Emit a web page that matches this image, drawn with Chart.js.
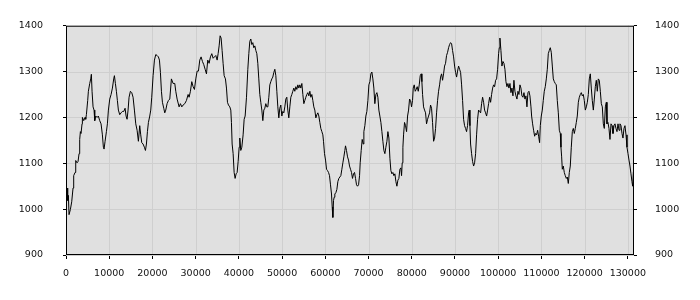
<!DOCTYPE html>
<html>
<head>
<meta charset="utf-8">
<script src="https://cdn.jsdelivr.net/npm/chart.js@4/dist/chart.umd.min.js"></script>
<style>
  html, body { margin: 0; padding: 0; background: #fff; }
  #wrap { width: 700px; height: 300px; }
</style>
</head>
<body>
<div id="wrap"><canvas id="myChart"></canvas></div>
<script>
// values, x = sample index, y = level
const xValues = [
  0, 240, 390, 550, 700, 1010, 1320, 1630, 1780, 2090, 2250, 2560, 2790, 3020, 3170, 3330, 3480, 3710, 3790, 4100,
  4410, 4560, 4720, 5020, 5180, 5490, 5720, 5870, 6030, 6260, 6490, 6650, 6880, 7190, 7490, 7800, 8110, 8420, 8650, 8810,
  9040, 9350, 9580, 9810, 10120, 10430, 10740, 11040, 11200, 11430, 11660, 11890, 12120, 12430, 12740, 13050, 13360, 13670, 13900, 14130,
  14360, 14590, 14900, 15210, 15520, 15830, 16140, 16450, 16750, 17060, 17290, 17530, 17830, 18140, 18380, 18610, 18840, 19070, 19380, 19610,
  19840, 20150, 20460, 20770, 21080, 21380, 21620, 21850, 22080, 22310, 22620, 22850, 23080, 23390, 23700,
  24010, 24390, 24780, 25170, 25400, 25710, 26170, 26480, 26790, 27090, 27480, 27870, 28250, 28480, 28790, 29100, 29410, 29720, 30030, 30340,
  30640, 30950, 31260, 31570, 31880, 32190, 32500, 32800, 33110, 33420, 33730, 34040, 34350, 34660, 34970, 35200, 35430, 35660, 35890, 36120,
  36350, 36590, 36890, 37130, 37360, 37590, 37900, 38130, 38280, 38440, 38670, 38900, 39130, 39360, 39600, 39830, 40060, 40210, 40440, 40680,
  40980, 41220, 41450, 41760, 42070, 42300, 42530, 42760, 42990, 43220, 43450, 43690, 43920, 44150, 44380, 44610, 44840, 45070, 45310, 45540,
  45770, 46000, 46230, 46460, 46700, 46930, 47160, 47390, 47620, 47850, 48080, 48320, 48550, 48780, 49010, 49240,
  49470, 49700, 49940, 50170, 50400, 50630, 50860, 51090, 51320, 51550, 51790, 52020, 52250, 52480, 52710, 52940, 53180, 53410, 53640, 53870,
  54100, 54330, 54570, 54800, 55030, 55260, 55490, 55720, 55950, 56190, 56420, 56650, 56880, 57110, 57340, 57570, 57810, 58040, 58270, 58500,
  58730, 58960, 59200, 59430, 59580, 59810, 60050, 60280, 60510, 60740, 60970, 61200, 61430, 61590, 61740, 61900, 62050, 62200, 62440, 62670,
  62900, 63130, 63360, 63590, 63830, 64060, 64290, 64520, 64670, 64900, 65140, 65370, 65600, 65830, 66060, 66290, 66530, 66760, 66990, 67220,
  67450, 67690, 67920, 68070, 68300, 68530, 68770, 68920, 69150, 69380, 69610, 69850, 70080, 70310, 70540, 70770, 71000, 71230, 71460, 71700,
  71930, 72160, 72390, 72620, 72860, 73090, 73320, 73550, 73780, 74010, 74250, 74480, 74710,
  74940, 75170, 75400, 75630, 75860, 76100, 76330, 76560, 76790, 77020, 77250, 77480, 77640, 77790, 77950, 78100, 78330, 78560, 78800, 79030,
  79260, 79490, 79720, 79950, 80180, 80340, 80570, 80800, 81030, 81260, 81500, 81730, 81960, 82190, 82340, 82500, 82730, 82960, 83190, 83420,
  83660, 83890, 84120, 84350, 84580, 84810, 85050, 85280, 85510, 85740, 85970, 86200, 86440, 86670, 86900, 87130, 87360, 87590, 87820, 88050,
  88290, 88520, 88750, 88980, 89210, 89440, 89680, 89910, 90140, 90370, 90600, 90830, 91070, 91300, 91530, 91760, 91990, 92220, 92450, 92680,
  92910, 93150, 93300, 93460, 93610, 93840, 94070, 94310, 94540, 94770, 95000, 95230, 95460, 95700, 95930, 96160, 96390, 96620, 96850, 97080,
  97320, 97550, 97780, 98010, 98240, 98470, 98710, 98940, 99170, 99400, 99630, 99860, 100090, 100250,
  100400, 100630, 100860, 101100, 101330, 101560, 101790, 102020, 102250, 102480, 102720, 102950, 103180, 103410, 103640, 103870, 104110, 104340, 104570, 104800,
  105030, 105260, 105490, 105730, 105960, 106190, 106420, 106650, 106880, 107110, 107340, 107580, 107730, 107960, 108190, 108430, 108660, 108890, 109120, 109350,
  109580, 109740, 109970, 110200, 110430, 110660, 110890, 111130, 111360, 111590, 111820, 112050, 112280, 112520, 112750, 112980, 113210, 113440, 113670, 113910,
  114140, 114370, 114520, 114680, 114830, 115060, 115290, 115520, 115760, 115990, 116220, 116450, 116680, 116910, 117150, 117380, 117610, 117840, 118070, 118300,
  118540, 118770, 119000, 119230, 119460, 119690, 119920, 120160, 120390, 120620, 120850, 121080, 121310, 121540, 121770, 122010, 122240, 122470, 122700, 122930,
  123160, 123390, 123630, 123860, 124090, 124320, 124550, 124790, 125020, 125170, 125400, 125630, 125860, 126100, 126330, 126560, 126790, 127020, 127250, 127480,
  127720, 127950, 128180, 128410, 128640, 128870, 129100, 129330, 129570, 129800, 130030, 130260, 130490, 130720, 130950, 131110, 131270, 131420
];
const yValues = [
  1040, 1046, 1019, 1030, 988, 999, 1016, 1046, 1073, 1080, 1106, 1101, 1104, 1121, 1152, 1169, 1165, 1186, 1200, 1193,
  1200, 1196, 1206, 1237, 1257, 1274, 1284, 1294, 1257, 1223, 1216, 1193, 1203, 1200, 1203, 1193, 1186, 1162, 1135, 1131,
  1148, 1169, 1186, 1216, 1240, 1250, 1264, 1284, 1291, 1274, 1257, 1237, 1216, 1206, 1210, 1213, 1213, 1220, 1203, 1196,
  1216, 1244, 1257, 1254, 1244, 1216, 1186, 1172, 1148, 1182, 1162, 1145, 1142, 1135, 1128, 1142, 1169, 1189, 1203, 1216,
  1244, 1291, 1325, 1337, 1335, 1332, 1325, 1298, 1257, 1233, 1220, 1210, 1216, 1230, 1237,
  1240, 1284, 1274, 1274, 1257, 1240, 1223, 1230, 1223, 1227, 1230, 1237, 1250, 1244, 1257, 1278, 1267, 1261, 1284, 1301,
  1301, 1325, 1332, 1322, 1315, 1305, 1295, 1325, 1318, 1332, 1339, 1329, 1332, 1335, 1325, 1339, 1356, 1378, 1373, 1346,
  1318, 1291, 1284, 1264, 1233, 1227, 1223, 1216, 1189, 1142, 1121, 1080, 1067, 1077, 1080, 1104, 1135, 1155, 1128, 1135,
  1162, 1196, 1203, 1244, 1305, 1339, 1366, 1371, 1359, 1363, 1352, 1356, 1346, 1339, 1318, 1284, 1250, 1233, 1216, 1193,
  1216, 1220, 1230, 1223, 1223, 1244, 1271, 1278, 1284, 1288, 1298, 1305, 1291, 1257, 1223, 1199,
  1220, 1227, 1203, 1213, 1210, 1223, 1240, 1244, 1216, 1199, 1223, 1244, 1250, 1257, 1264, 1257, 1267, 1261, 1271, 1264,
  1271, 1264, 1274, 1250, 1230, 1237, 1244, 1250, 1254, 1247, 1257, 1244, 1250, 1237, 1223, 1216, 1199, 1206, 1210, 1203,
  1189, 1176, 1169, 1162, 1148, 1121, 1107, 1087, 1084, 1080, 1073, 1053, 1033, 1005, 982, 1019, 1026, 1033, 1036, 1043,
  1060, 1067, 1070, 1073, 1087, 1101, 1114, 1128, 1138, 1128, 1114, 1107, 1094, 1087, 1080, 1067, 1077, 1080, 1067, 1053,
  1050, 1053, 1073, 1101, 1128, 1152, 1142, 1169, 1182, 1203, 1213, 1237, 1271, 1278, 1295, 1299, 1284, 1264, 1230, 1250,
  1254, 1244, 1216, 1203, 1189, 1169, 1148, 1128, 1121, 1135, 1148, 1169, 1155,
  1111, 1084, 1077, 1080, 1073, 1077, 1060, 1050, 1063, 1067, 1087, 1090, 1073, 1101, 1135, 1162, 1189, 1182, 1169, 1203,
  1216, 1240, 1237, 1223, 1237, 1264, 1271, 1257, 1261, 1267, 1257, 1271, 1291, 1295, 1278, 1250, 1223, 1216, 1210, 1186,
  1196, 1203, 1210, 1227, 1220, 1189, 1148, 1155, 1176, 1210, 1237, 1257, 1271, 1288, 1295, 1281, 1295, 1312, 1318, 1335,
  1342, 1352, 1359, 1363, 1361, 1346, 1332, 1312, 1298, 1288, 1301, 1312, 1305, 1298, 1271, 1237, 1196, 1182, 1176, 1169,
  1182, 1210, 1216, 1182, 1142, 1121, 1104, 1094, 1101, 1121, 1162, 1196, 1216, 1213, 1210, 1230, 1244, 1233, 1216, 1210,
  1203, 1216, 1230, 1244, 1233, 1250, 1264, 1271, 1267, 1281, 1284, 1305, 1339, 1352,
  1373, 1346, 1312, 1322, 1318, 1305, 1278, 1267, 1274, 1264, 1274, 1254, 1264, 1247, 1281, 1257, 1247, 1240, 1257, 1250,
  1271, 1264, 1247, 1244, 1254, 1240, 1247, 1223, 1254, 1257, 1247, 1223, 1203, 1186, 1172, 1159, 1165, 1162, 1172, 1159,
  1145, 1182, 1203, 1216, 1237, 1257, 1267, 1284, 1305, 1339, 1346, 1352, 1342, 1312, 1284, 1278, 1274, 1271, 1237, 1210,
  1172, 1165, 1135, 1114, 1087, 1094, 1080, 1073, 1067, 1070, 1056, 1080, 1094, 1135, 1169, 1176, 1165, 1176, 1189, 1203,
  1233, 1244, 1250, 1254, 1247, 1250, 1237, 1216, 1223, 1233, 1250, 1284, 1295, 1264, 1237, 1216, 1240, 1267, 1281, 1257,
  1284, 1281, 1257, 1230, 1223, 1186, 1176, 1223, 1233, 1186, 1189, 1176, 1152, 1186, 1182, 1165, 1182, 1186, 1176, 1169,
  1186, 1172, 1186, 1182, 1165, 1155, 1176, 1182, 1162, 1135, 1121, 1107, 1094, 1077, 1060, 1050, 1080, 1090
];

// axis ticks as shown in the reference
const xTicks = [0, 10000, 20000, 30000, 40000, 50000, 60000, 70000, 80000, 90000, 100000, 110000, 120000, 130000];
const yTicks = [900, 1000, 1100, 1200, 1300, 1400];

const X_MAX = 131420;
const Y_MIN = 900;
const Y_MAX = 1400;

const points = xValues.map((x, i) => ({ x: x, y: yValues[i] }));

const tickFont = { family: 'DejaVu Sans', size: 9.5 };

function useTicks(list) {
  return (scale) => {
    scale.ticks = list.map((v) => ({ value: v }));
  };
}

// grey plot box, grid lines and a black frame
const plotBox = {
  id: 'plotBox',
  beforeDatasetsDraw(chart) {
    const a = chart.chartArea;
    const c = chart.ctx;
    const xs = chart.scales.x;
    const ys = chart.scales.y;
    c.save();
    c.fillStyle = '#e0e0e0';
    c.fillRect(a.left, a.top, a.right - a.left, a.bottom - a.top);
    c.strokeStyle = '#cfcfcf';
    c.lineWidth = 1;
    c.beginPath();
    xTicks.forEach((v) => {
      const px = Math.round(xs.getPixelForValue(v)) + 0.5;
      c.moveTo(px, a.top);
      c.lineTo(px, a.bottom);
    });
    yTicks.forEach((v) => {
      const py = Math.round(ys.getPixelForValue(v)) + 0.5;
      c.moveTo(a.left, py);
      c.lineTo(a.right, py);
    });
    c.stroke();
    c.strokeStyle = '#000';
    c.strokeRect(a.left + 0.5, a.top + 0.5, a.right - a.left - 1, a.bottom - a.top - 1);
    c.restore();
  }
};

const ctx = document.getElementById('myChart').getContext('2d');

new Chart(ctx, {
  type: 'line',
  data: {
    datasets: [
      {
        data: points,
        borderColor: '#000',
        borderWidth: 1,
        pointRadius: 0,
        tension: 0,
        fill: false,
      },
    ],
  },
  options: {
    responsive: true,
    maintainAspectRatio: false,
    animation: false,
    layout: { padding: { top: 10 } },
    plugins: {
      legend: { display: false },
      tooltip: { enabled: false },
    },
    scales: {
      x: {
        type: 'linear',
        min: 0,
        max: X_MAX,
        border: { display: false },
        grid: { drawOnChartArea: false, tickColor: '#000', tickLength: 4 },
        ticks: {
          maxRotation: 0,
          autoSkip: false,
          padding: 9,
          color: '#111',
          font: tickFont,
          callback: (v) => String(v),
        },
        afterBuildTicks: useTicks(xTicks),
        afterFit: (s) => { s.height = 45; },
      },
      y: {
        position: 'left',
        min: Y_MIN,
        max: Y_MAX,
        border: { display: false },
        grid: { drawOnChartArea: false, tickColor: '#000', tickLength: 3 },
        ticks: { padding: 20, color: '#111', font: tickFont, callback: (v) => String(v) },
        afterBuildTicks: useTicks(yTicks),
        afterFit: (s) => { s.width = 66; },
      },
      y2: {
        position: 'right',
        min: Y_MIN,
        max: Y_MAX,
        border: { display: false },
        grid: { drawOnChartArea: false, tickColor: '#000', tickLength: 3 },
        ticks: { padding: 18, color: '#111', font: tickFont, callback: (v) => String(v) },
        afterBuildTicks: useTicks(yTicks),
        afterFit: (s) => { s.width = 66; },
      },
    },
  },
  plugins: [plotBox],
});
</script>
</body>
</html>
